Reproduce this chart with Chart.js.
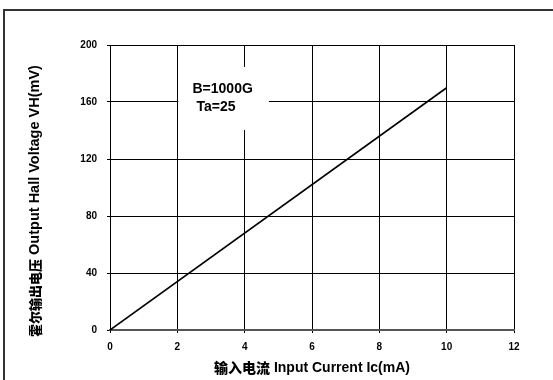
<!DOCTYPE html>
<html>
<head>
<meta charset="utf-8">
<script src="https://cdn.jsdelivr.net/npm/chart.js@4/dist/chart.umd.min.js"></script>
<style>
  html, body { margin: 0; padding: 0; background: #fff; }
  #wrap { position: relative; width: 553px; height: 380px; overflow: hidden; }
  #frame { position: absolute; left: 3px; top: 9px; width: 560px; height: 380px;
           border-top: 2px solid #333; border-left: 2px solid #333; box-sizing: border-box; }
  canvas { position: absolute; left: 0; top: 0; }
</style>
</head>
<body>
<div id="wrap">
  <div id="frame"></div>
  <canvas id="c" width="553" height="380"></canvas>
</div>
<script>
// Hall output voltage vs. input current (B = 1000 G, Ta = 25)
const currentMA = [0, 10];
const hallVoltageMV = [0, 170];
const xTicks = [0, 2, 4, 6, 8, 10, 12];
const yTicks = [0, 40, 80, 120, 160, 200];
const xTitleParts = ['输入电流', ' Input Current Ic(mA)'];
const yTitleParts = ['霍尔输出电压', ' Output Hall Voltage VH(mV)'];
const noteLines = ['B=1000G', 'Ta=25'];

const FONT = '"Liberation Sans", Arial, sans-serif';
const CJK = '"Noto Sans CJK SC", sans-serif';

const points = currentMA.map((x, i) => ({ x, y: hallVoltageMV[i] }));

// draw a heavy CJK segment followed by a Latin segment, centred on (0,0)
function drawTitle(ctx, parts, cjkSize, latinSize) {
  const cjkFont = '900 ' + cjkSize + 'px ' + CJK;
  const latFont = 'bold ' + latinSize + 'px ' + FONT;
  ctx.font = cjkFont;
  const w0 = ctx.measureText(parts[0]).width;
  ctx.font = latFont;
  const w1 = ctx.measureText(parts[1]).width;
  let xPos = -(w0 + w1) / 2;
  ctx.textAlign = 'left';
  ctx.textBaseline = 'middle';
  ctx.font = cjkFont;
  ctx.fillText(parts[0], xPos, 0);
  ctx.font = latFont;
  ctx.fillText(parts[1], xPos + w0, 0);
}

// Axis titles and the condition note drawn on top of the grid
const annotations = {
  id: 'annotations',
  afterDraw(chart) {
    const { ctx, chartArea: a, scales: { x, y } } = chart;
    ctx.save();
    ctx.fillStyle = '#000';

    ctx.save();
    ctx.translate((a.left + a.right) / 2, 368);
    drawTitle(ctx, xTitleParts, 14, 14);
    ctx.restore();

    ctx.save();
    ctx.translate(35, 201);
    ctx.rotate(-Math.PI / 2);
    drawTitle(ctx, yTitleParts, 13, 14.5);
    ctx.restore();

    // white note box over the grid
    const bx0 = x.getPixelForValue(2) + 1, bx1 = x.getPixelForValue(4.72);
    const by0 = y.getPixelForValue(184.6), by1 = y.getPixelForValue(140.4);
    ctx.fillStyle = '#fff';
    ctx.fillRect(bx0, by0, bx1 - bx0, by1 - by0);
    ctx.fillStyle = '#000';
    ctx.font = 'bold 14px ' + FONT;
    ctx.textAlign = 'left';
    ctx.textBaseline = 'middle';
    ctx.fillText(noteLines[0], x.getPixelForValue(2.45), y.getPixelForValue(169));
    ctx.fillText(noteLines[1], x.getPixelForValue(2.57), y.getPixelForValue(156.5));
    ctx.restore();
  }
};

new Chart(document.getElementById('c'), {
  type: 'line',
  data: {
    datasets: [{
      data: points,
      borderColor: '#000',
      borderWidth: 1.6,
      pointRadius: 0,
      tension: 0,
      fill: false
    }]
  },
  options: {
    responsive: false,
    animation: false,
    devicePixelRatio: 1,
    layout: { padding: { top: 45, right: 39, left: 0, bottom: 0 } },
    plugins: { legend: { display: false }, tooltip: { enabled: false } },
    scales: {
      x: {
        type: 'linear',
        min: 0, max: 12,
        afterBuildTicks(s) { s.ticks = xTicks.map(v => ({ value: v })); },
        afterFit(s) { s.height = 50; },
        grid: { color: '#000', lineWidth: 1, tickLength: 3, drawTicks: true },
        border: { color: '#555', width: 2 },
        ticks: { color: '#000', font: { family: FONT, size: 10, weight: 'bold' }, padding: 8, maxRotation: 0 }
      },
      y: {
        type: 'linear',
        min: 0, max: 200,
        afterBuildTicks(s) { s.ticks = yTicks.map(v => ({ value: v })); },
        afterFit(s) { s.width = 110; },
        grid: { color: '#000', lineWidth: 1, tickLength: 3, drawTicks: true },
        border: { color: '#000', width: 1 },
        ticks: { color: '#000', font: { family: FONT, size: 10, weight: 'bold' }, padding: 10 }
      }
    }
  },
  plugins: [annotations]
});
</script>
</body>
</html>
